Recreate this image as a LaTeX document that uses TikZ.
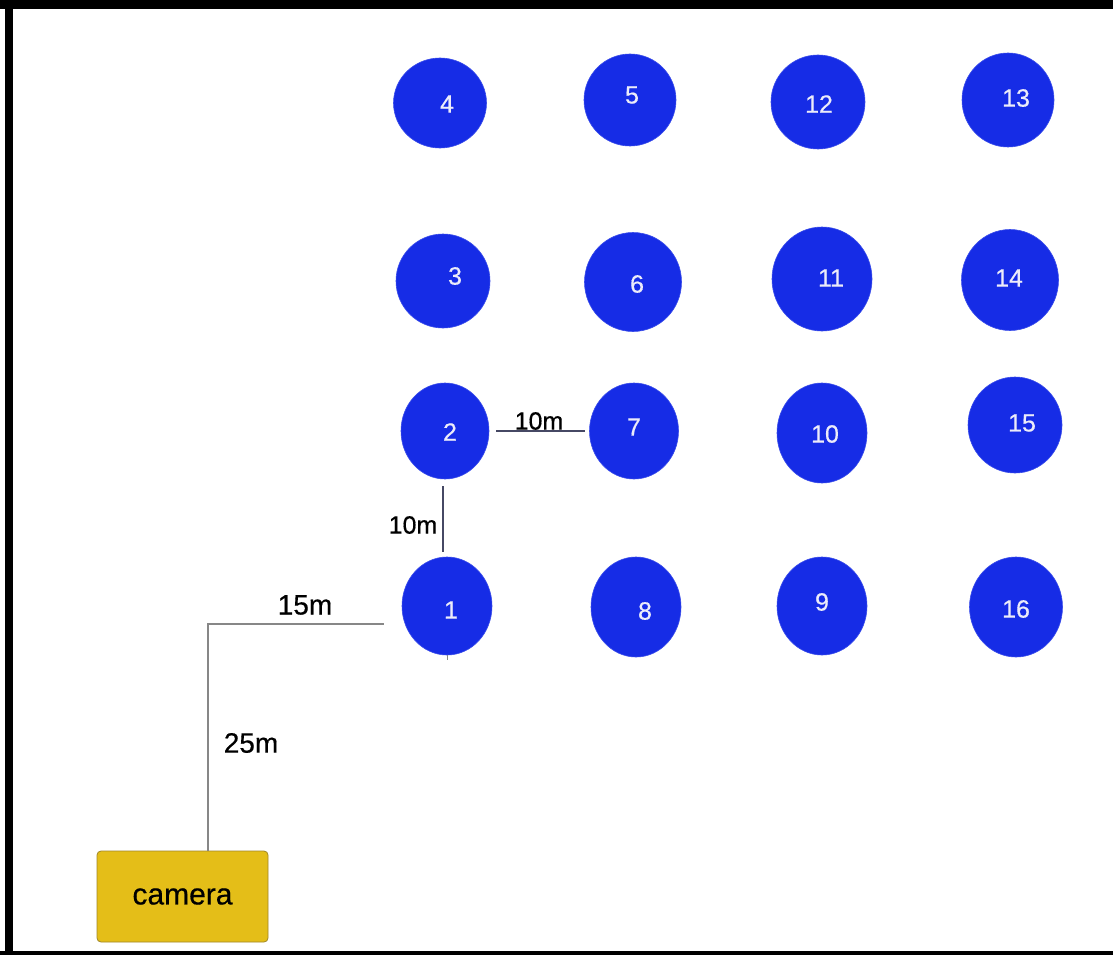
\documentclass[tikz,border=0pt]{standalone}
\usepackage{fontspec}
\setmainfont{Liberation Sans}
\newfontfamily\semib{Liberation Sans}[FakeBold=0.5]
\usetikzlibrary{shapes.geometric}
\definecolor{dotblue}{RGB}{22,44,230}
\definecolor{numwhite}{RGB}{236,236,250}
\definecolor{camfill}{RGB}{228,190,24}
\definecolor{camedge}{RGB}{160,135,40}
\definecolor{linkdark}{RGB}{70,72,100}
\definecolor{linkgray}{RGB}{135,135,135}
\tikzset{
  dot/.style={ellipse, fill=dotblue, draw=dotblue!85!white, line width=0.6pt, inner sep=0pt},
  num/.style={text=numwhite, font=\fontsize{25}{27}\selectfont\semib, inner sep=0pt},
  dist/.style={text=black, font=\fontsize{25}{27}\selectfont\semib, inner sep=0pt},
  bigdist/.style={text=black, font=\fontsize{28}{30}\selectfont\semib, inner sep=0pt},
  darklink/.style={draw=linkdark, line width=1.3pt},
  graylink/.style={draw=linkgray, line width=1.5pt},
  cambox/.style={rectangle, rounded corners=4pt, fill=camfill, draw=camedge, line width=0.8pt,
    minimum width=171pt, minimum height=91pt, inner sep=0pt, font=\fontsize{30}{32}\selectfont\semib}
}
\begin{document}
\begin{tikzpicture}[x=1pt,y=-1pt]
\useasboundingbox (0,0) rectangle (1113,955);
\fill[white] (0,0) rectangle (1113,955);
% frame
\fill[black] (0,0) rectangle (1113,9);
\fill[black] (5,0) rectangle (13,955);
\fill[black] (0,951) rectangle (1113,955);

% circles
\node[dot, minimum width=93pt, minimum height=90pt] (c4) at (440,103) {};
\node[dot, minimum width=92pt, minimum height=92pt] (c5) at (630,100) {};
\node[dot, minimum width=94pt, minimum height=94pt] (c12) at (818,102) {};
\node[dot, minimum width=92pt, minimum height=94pt] (c13) at (1008,100) {};
\node[dot, minimum width=94pt, minimum height=94pt] (c3) at (443,281) {};
\node[dot, minimum width=97pt, minimum height=99pt] (c6) at (633,282) {};
\node[dot, minimum width=100pt, minimum height=104pt] (c11) at (822,279) {};
\node[dot, minimum width=97pt, minimum height=101pt] (c14) at (1010,280) {};
\node[dot, minimum width=88pt, minimum height=96pt] (c2) at (445,431) {};
\node[dot, minimum width=89pt, minimum height=96pt] (c7) at (634,431) {};
\node[dot, minimum width=90pt, minimum height=100pt] (c10) at (822,433) {};
\node[dot, minimum width=94pt, minimum height=96pt] (c15) at (1015,425) {};
\node[dot, minimum width=90pt, minimum height=98pt] (c1) at (447,606) {};
\node[dot, minimum width=90pt, minimum height=100pt] (c8) at (636,607) {};
\node[dot, minimum width=90pt, minimum height=98pt] (c9) at (822,606) {};
\node[dot, minimum width=93pt, minimum height=100pt] (c16) at (1016,607) {};

% numbers
\node[num] (t4) at (447,104) {4};
\node[num] (t5) at (632,95) {5};
\node[num] (t12) at (819,104) {12};
\node[num] (t13) at (1016,98) {13};
\node[num] (t3) at (455,276) {3};
\node[num] (t6) at (637,284) {6};
\node[num] (t11) at (831,278) {11};
\node[num] (t14) at (1009,278) {14};
\node[num] (t2) at (450,432) {2};
\node[num] (t7) at (634,427) {7};
\node[num] (t10) at (825,434) {10};
\node[num] (t15) at (1022,423) {15};
\node[num] (t1) at (451,610) {1};
\node[num] (t8) at (645,611) {8};
\node[num] (t9) at (822,602) {9};
\node[num] (t16) at (1016,609) {16};

% 10m links
\draw[darklink] ([xshift=7pt]c2.east) -- ([xshift=-4pt]c7.west);
\node[dist] (d1) at (539,421) {10m};
\draw[darklink] ([xshift=-2pt,yshift=-7pt]c2.south) -- ([xshift=-4pt,yshift=5pt]c1.north);
\node[dist] (d2) at (413,525) {10m};
\draw[graylink, line width=1pt] (c1.south) -- ++(0,5);

% camera
\node[cambox] (cam) at (182.5,896.5) {camera};
\coordinate (k) at (384,624);
\draw[graylink] ([xshift=25.5pt]cam.north) |- (k);
\node[bigdist] (d3) at (305,605) {15m};
\node[bigdist] (d4) at (251,743) {25m};
\end{tikzpicture}
\end{document}
